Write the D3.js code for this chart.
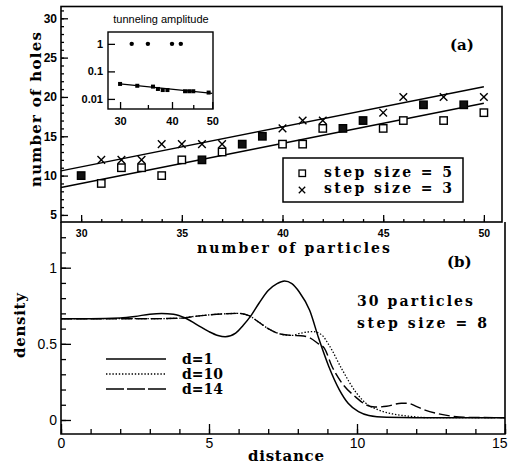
<!DOCTYPE html>
<html>
<head>
<meta charset="utf-8">
<script src="https://cdn.jsdelivr.net/npm/d3@7"></script>
<style>
  body { margin: 0; background: #fff; }
  svg { display: block; }
</style>
</head>
<body>
<svg id="chart" width="508" height="465"></svg>
<script>
// panel (a): number of holes vs number of particles
const nParticles = [30, 31, 32, 33, 34, 35, 36, 37, 38, 39, 40, 41, 42, 43, 44, 45, 46, 47, 48, 49, 50];
const holesStep5 = [10, 9, 11, 11, 10, 12, 12, 13, 14, 15, 14, 14, 16, 16, 17, 16, 17, 19, 17, 19, 18];
const holesStep3 = [10, 12, 12, 12, 14, 14, 14, 14, 14, 15, 16, 17, 17, 16, 17, 18, 20, 19, 20, 19, 20];
const filledAt = [30, 36, 38, 39, 43, 44, 47, 49];
const fitStep5 = [[29, 8.5], [50, 19.2]];
const fitStep3 = [[29, 10.6], [50, 21.3]];
const legendA = ['step size = 5', 'step size = 3'];

// inset: tunneling amplitude (log-log)
const tunnelHighX = [32, 35, 40, 42];
const tunnelHighY = [1, 1, 1, 1];
const tunnelLowX = [30, 33, 36, 37, 38, 39, 43, 44, 45, 49];
const tunnelLowY = [0.035, 0.03, 0.028, 0.023, 0.021, 0.021, 0.019, 0.019, 0.019, 0.017];
const tunnelFit = [[30, 0.035], [50, 0.016]];

// panel (b): density profiles
const distD1 = [0, 1, 2, 2.5, 3, 3.4, 3.8, 4.2, 4.6, 5, 5.3, 5.55, 5.9, 6.15, 6.4, 6.7, 7, 7.3, 7.55, 7.8, 8.05, 8.4, 8.7, 9.05, 9.4, 9.7, 10.05, 10.4, 11, 12, 15];
const densD1 = [0.665, 0.665, 0.67, 0.68, 0.695, 0.70, 0.695, 0.67, 0.625, 0.58, 0.555, 0.546, 0.57, 0.62, 0.68, 0.77, 0.85, 0.895, 0.912, 0.895, 0.84, 0.72, 0.54, 0.35, 0.2, 0.11, 0.055, 0.03, 0.018, 0.015, 0.015];
const distD10 = [0, 2, 3, 4, 4.5, 5, 5.5, 6, 6.35, 6.7, 7, 7.4, 7.8, 8.1, 8.5, 8.8, 9.06, 9.5, 9.97, 10.3, 10.74, 11.2, 11.75, 12.5, 15];
const densD10 = [0.665, 0.665, 0.665, 0.668, 0.68, 0.69, 0.697, 0.70, 0.685, 0.64, 0.6, 0.565, 0.555, 0.57, 0.58, 0.56, 0.49, 0.33, 0.18, 0.11, 0.065, 0.04, 0.025, 0.015, 0.015];
const distD14 = [0, 2, 3, 4, 4.5, 5, 5.5, 6, 6.35, 6.7, 7, 7.4, 7.8, 8.1, 8.4, 8.7, 8.9, 9.16, 9.5, 9.96, 10.3, 10.6, 11, 11.5, 11.7, 12, 12.3, 12.76, 13.2, 13.6, 15];
const densD14 = [0.665, 0.665, 0.665, 0.668, 0.68, 0.69, 0.697, 0.70, 0.685, 0.64, 0.6, 0.565, 0.555, 0.553, 0.54, 0.5, 0.47, 0.35, 0.24, 0.15, 0.10, 0.085, 0.09, 0.11, 0.11, 0.09, 0.065, 0.04, 0.025, 0.018, 0.015];
const legendB = ['d=1', 'd=10', 'd=14'];

const svg = d3.select('#chart');
const serif = '"DejaVu Serif", serif';
const sans = '"Liberation Sans", Arial, sans-serif';

svg.append('rect').attr('width', 508).attr('height', 465).attr('fill', '#fff');

function tickAxis(g, axis) {
  g.call(axis);
  g.select('.domain').remove();
  g.selectAll('line').attr('stroke', '#000').attr('stroke-width', 1.3);
}

// ---------- panel (a) ----------
const xA = d3.scaleLinear().domain([29, 50.9]).range([61, 502]);
const yA = d3.scaleLinear().domain([4.1, 31.5]).range([222, 6.5]);
const gA = svg.append('g');

gA.append('g').attr('transform', 'translate(0,222)')
  .call(g => tickAxis(g, d3.axisBottom(xA).tickValues(d3.range(30, 51)).tickSize(-3).tickFormat('')));
const xAxA = gA.append('g').attr('transform', 'translate(0,222)')
  .call(g => tickAxis(g, d3.axisBottom(xA).tickValues([30, 35, 40, 45, 50]).tickSize(-7).tickPadding(8)));
xAxA.selectAll('text').attr('font-size', 10.5);
gA.append('g').attr('transform', 'translate(61,0)')
  .call(g => tickAxis(g, d3.axisLeft(yA).tickValues(d3.range(5, 32)).tickSize(-3).tickFormat('')));
const yAxA = gA.append('g').attr('transform', 'translate(61,0)')
  .call(g => tickAxis(g, d3.axisLeft(yA).tickValues([5, 10, 15, 20, 25, 30]).tickSize(-7).tickPadding(4)));
yAxA.selectAll('text').attr('font-size', 12);
gA.selectAll('text').attr('font-family', sans).attr('font-weight', 'bold').attr('fill', '#000');

gA.append('rect').attr('x', 61).attr('y', 6.5).attr('width', 441).attr('height', 215.5)
  .attr('fill', 'none').attr('stroke', '#000').attr('stroke-width', 1.6);

const lineA = d3.line().x(d => xA(d[0])).y(d => yA(d[1]));
[fitStep5, fitStep3].forEach(f => {
  gA.append('path').attr('d', lineA(f)).attr('fill', 'none').attr('stroke', '#000').attr('stroke-width', 1.5);
});

const crossPath = s => `M${-s},${-s}L${s},${s}M${-s},${s}L${s},${-s}`;

nParticles.forEach((n, i) => {
  const filled = filledAt.includes(n);
  if (!(filled && holesStep3[i] === holesStep5[i])) {
    gA.append('path').attr('transform', `translate(${xA(n)},${yA(holesStep3[i])})`)
      .attr('d', crossPath(3.8)).attr('stroke', '#000').attr('stroke-width', 1.4);
  }
  gA.append('rect').attr('x', xA(n) - 3.7).attr('y', yA(holesStep5[i]) - 3.7)
    .attr('width', 7.4).attr('height', 7.4)
    .attr('fill', filled ? '#111' : '#fff').attr('stroke', '#000').attr('stroke-width', 1.4);
});

// legend (a)
gA.append('rect').attr('x', 283).attr('y', 158).attr('width', 180).attr('height', 44)
  .attr('fill', '#fff').attr('stroke', '#000').attr('stroke-width', 1.5);
gA.append('rect').attr('x', 299).attr('y', 170).attr('width', 6.5).attr('height', 6.5)
  .attr('fill', '#fff').attr('stroke', '#000').attr('stroke-width', 1.3);
gA.append('path').attr('transform', 'translate(302,190)').attr('d', crossPath(3.2))
  .attr('stroke', '#000').attr('stroke-width', 1.3);
legendA.forEach((t, i) => {
  gA.append('text').attr('x', 324).attr('y', 177 + i * 16).text(t)
    .attr('font-family', serif).attr('font-weight', 'bold').attr('font-size', 14)
    .attr('textLength', 128).attr('lengthAdjust', 'spacing');
});

gA.append('text').attr('x', 450).attr('y', 50).text('(a)')
  .attr('font-family', serif).attr('font-weight', 'bold').attr('font-size', 15);

gA.append('text').attr('x', 197).attr('y', 253).text('number of particles')
  .attr('font-family', serif).attr('font-weight', 'bold').attr('font-size', 14)
  .attr('textLength', 193).attr('lengthAdjust', 'spacing');
gA.append('text').attr('transform', 'translate(41,187) rotate(-90)').text('number of holes')
  .attr('font-family', serif).attr('font-weight', 'bold').attr('font-size', 15)
  .attr('textLength', 155).attr('lengthAdjust', 'spacing');

// ---------- inset (log-log) ----------
const xI = d3.scaleLog().domain([28.06, 50.2]).range([108, 213]);
const yI = d3.scaleLog().domain([0.0043, 2.7]).range([109, 32]);
const gI = svg.append('g');

gI.append('rect').attr('x', 108).attr('y', 32).attr('width', 105).attr('height', 77)
  .attr('fill', '#fff').attr('stroke', '#000').attr('stroke-width', 1.4);
gI.append('g').attr('transform', 'translate(0,109)')
  .call(g => tickAxis(g, d3.axisBottom(xI).tickValues([35, 45]).tickSize(-4).tickFormat('')));
gI.append('g').attr('transform', 'translate(0,109)')
  .call(g => tickAxis(g, d3.axisBottom(xI).tickValues([30, 40, 50]).tickSize(-7).tickPadding(8).tickFormat(d3.format('d'))));
gI.append('g').attr('transform', 'translate(108,0)')
  .call(g => tickAxis(g, d3.axisLeft(yI).tickValues([1, 0.1, 0.01]).tickSize(-7).tickPadding(5)
    .tickFormat(d3.format('~g'))));
gI.selectAll('text').attr('font-family', sans).attr('font-size', 11).attr('font-weight', 'bold').attr('fill', '#000');

gI.append('path').attr('d', d3.line().x(d => xI(d[0])).y(d => yI(d[1]))(tunnelFit))
  .attr('fill', 'none').attr('stroke', '#000').attr('stroke-width', 1.3);
tunnelHighX.forEach((x, i) => {
  gI.append('circle').attr('cx', xI(x)).attr('cy', yI(tunnelHighY[i])).attr('r', 2.2).attr('fill', '#000');
});
tunnelLowX.forEach((x, i) => {
  gI.append('rect').attr('x', xI(x) - 2).attr('y', yI(tunnelLowY[i]) - 2)
    .attr('width', 4).attr('height', 4).attr('fill', '#000');
});
gI.append('text').attr('x', 161).attr('y', 23).attr('text-anchor', 'middle').text('tunneling amplitude')
  .attr('font-family', sans).attr('font-size', 11);

// ---------- panel (b) ----------
const xB = d3.scaleLinear().domain([0, 15]).range([61, 505]);
const yB = d3.scaleLinear().domain([-0.092, 1.3]).range([434, 222]);
const gB = svg.append('g');

gB.append('g').attr('transform', 'translate(0,434)')
  .call(g => tickAxis(g, d3.axisBottom(xB).tickValues(d3.range(0, 16)).tickSize(-5).tickFormat('')));
const xAxB = gB.append('g').attr('transform', 'translate(0,434)')
  .call(g => tickAxis(g, d3.axisBottom(xB).tickValues([0, 5, 10, 15]).tickSize(-10).tickPadding(4)));
// last label sits at the page edge: keep it inside
xAxB.selectAll('text').filter(d => d === 15).attr('text-anchor', 'end').attr('dx', 2);
gB.append('g').attr('transform', 'translate(61,0)')
  .call(g => tickAxis(g, d3.axisLeft(yB).tickValues(d3.range(0, 13).map(i => i / 10)).tickSize(-5).tickFormat('')));
gB.append('g').attr('transform', 'translate(61,0)')
  .call(g => tickAxis(g, d3.axisLeft(yB).tickValues([0, 0.5, 1]).tickSize(-10).tickPadding(4)
    .tickFormat(d3.format('~g'))));
gB.selectAll('text').attr('font-family', sans).attr('font-size', 14).attr('fill', '#000');

gB.append('path').attr('d', 'M61,222V434H505V222').attr('fill', 'none')
  .attr('stroke', '#000').attr('stroke-width', 1.6);

const lineB = d3.line().curve(d3.curveMonotoneX).x(d => xB(d[0])).y(d => yB(d[1]));
const dashes = [null, '1.4,1.8', '11,4'];
const widths = [1.5, 1.3, 1.4];
[[distD1, densD1], [distD10, densD10], [distD14, densD14]].forEach(([xs, ys], k) => {
  gB.append('path').attr('d', lineB(xs.map((x, i) => [x, ys[i]])))
    .attr('fill', 'none').attr('stroke', '#000').attr('stroke-width', widths[k])
    .attr('stroke-dasharray', dashes[k]);
});

legendB.forEach((t, k) => {
  const y = 359 + k * 15;
  gB.append('line').attr('x1', 106).attr('x2', 166).attr('y1', y).attr('y2', y)
    .attr('stroke', '#000').attr('stroke-width', widths[k])
    .attr('stroke-dasharray', k === 2 ? '18,3' : dashes[k]);
  gB.append('text').attr('x', 182).attr('y', y + 4.5).text(t)
    .attr('font-family', serif).attr('font-weight', 'bold').attr('font-size', 14);
});

gB.append('text').attr('x', 357).attr('y', 306).text('30 particles')
  .attr('font-family', serif).attr('font-weight', 'bold').attr('font-size', 14)
  .attr('textLength', 116).attr('lengthAdjust', 'spacing');
gB.append('text').attr('x', 357).attr('y', 328).text('step size = 8')
  .attr('font-family', serif).attr('font-weight', 'bold').attr('font-size', 14)
  .attr('textLength', 130).attr('lengthAdjust', 'spacing');
gB.append('text').attr('x', 447).attr('y', 267).text('(b)')
  .attr('font-family', serif).attr('font-weight', 'bold').attr('font-size', 15);

gB.append('text').attr('x', 248).attr('y', 461).text('distance')
  .attr('font-family', serif).attr('font-weight', 'bold').attr('font-size', 15)
  .attr('textLength', 76).attr('lengthAdjust', 'spacing');
gB.append('text').attr('transform', 'translate(25,358) rotate(-90)').text('density')
  .attr('font-family', serif).attr('font-weight', 'bold').attr('font-size', 15)
  .attr('textLength', 65).attr('lengthAdjust', 'spacing');
</script>
</body>
</html>
